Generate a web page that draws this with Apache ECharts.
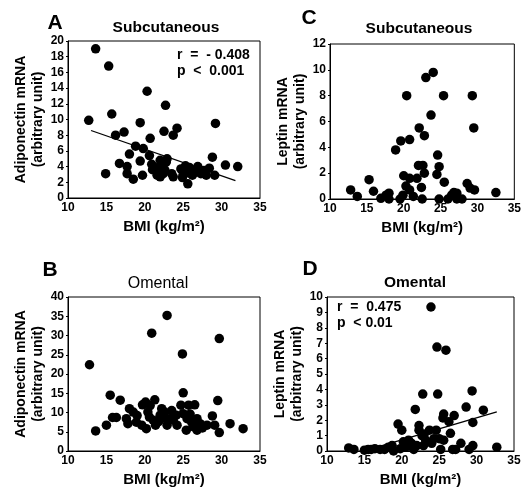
<!DOCTYPE html>
<html><head><meta charset="utf-8">
<script src="https://cdn.jsdelivr.net/npm/echarts@6/dist/echarts.min.js"></script>
<style>html,body{margin:0;padding:0;background:#fff}#c{width:524px;height:490px}</style>
</head><body><div id="c"></div>
<script>
// Panel A: Subcutaneous adiponectin vs BMI
var adipoSubc = [[13.6,19.0],[15.3,16.8],[20.3,13.6],[22.7,11.8],[15.7,10.7],[12.7,9.9],[19.4,9.6],[29.2,9.5],[24.2,8.9],[22.5,8.5],[17.3,8.4],[16.2,8.0],[23.7,8.0],[20.7,7.6],[18.8,6.6],[19.8,6.3],[18.0,5.6],[20.6,5.4],[28.8,5.2],[16.7,4.4],[19.4,4.7],[17.7,4.0],[14.9,3.1],[30.5,4.2],[32.1,4.0],[19.7,2.9],[17.7,3.1],[18.5,2.4],[23.5,3.1],[23.7,2.7],[25.6,1.8],[29.1,2.9],[27.3,3.1],[28.4,3.8],[20.9,4.3],[21.3,3.9],[21.7,3.4],[22.0,4.8],[22.3,4.2],[21.6,2.9],[22.6,3.6],[22.0,2.7],[22.8,4.6],[21.0,3.6],[22.4,3.1],[24.7,3.7],[25.3,4.1],[25.8,3.9],[26.4,3.5],[26.9,4.0],[25.0,3.0],[26.2,2.9],[27.7,3.5],[28.0,2.9],[24.9,2.6],[25.7,3.2],[26.6,3.3],[22.9,5.0]];
var fitA = [[13.0,8.6],[31.8,2.2]];
// Panel C: Subcutaneous leptin vs BMI
var leptinSubc = [[12.8,0.7],[13.7,0.2],[15.3,1.5],[15.9,0.6],[16.9,0.05],[17.6,0.3],[18.0,0.45],[18.0,0.0],[18.9,3.8],[19.6,4.5],[19.5,0.0],[19.9,0.3],[20.0,1.8],[20.4,8.0],[20.3,1.0],[20.8,4.6],[20.8,1.6],[20.8,0.7],[21.3,0.2],[21.8,1.6],[22.1,5.5],[22.0,2.6],[22.4,0.9],[22.5,0.0],[22.6,2.6],[22.8,4.9],[22.8,2.0],[23.0,9.4],[23.7,6.5],[24.0,9.8],[24.6,3.4],[24.5,1.9],[24.8,2.5],[24.8,0.0],[25.4,8.0],[25.5,1.3],[26.0,0.0],[26.5,0.3],[26.8,0.5],[27.2,0.45],[27.2,0.0],[27.9,0.0],[28.6,1.2],[29.0,0.85],[29.3,8.0],[29.5,5.5],[29.6,0.7],[32.5,0.5]];
// Panel B: Omental adiponectin vs BMI
var adipoOment = [[12.8,22.4],[13.6,5.2],[15.0,6.7],[15.5,14.5],[15.8,8.7],[16.3,8.7],[16.8,13.2],[17.6,8.4],[17.8,7.1],[18.0,11.0],[18.5,10.1],[18.9,7.5],[19.6,6.7],[19.7,12.0],[20.1,12.7],[20.2,5.8],[20.4,10.1],[20.7,11.8],[20.9,30.6],[21.1,8.0],[21.3,13.3],[21.4,6.7],[22.0,9.3],[22.2,11.0],[22.6,10.1],[22.9,6.7],[22.9,35.2],[23.2,8.4],[23.7,8.0],[24.1,9.3],[24.2,6.7],[24.7,11.9],[25.0,15.1],[24.9,25.2],[25.0,9.7],[25.4,5.4],[25.5,8.4],[25.7,11.9],[26.1,7.5],[26.5,12.0],[26.8,8.4],[26.8,5.4],[27.2,7.1],[27.5,6.0],[28.1,6.7],[28.8,9.1],[29.1,6.7],[29.5,13.1],[29.7,29.2],[29.7,4.8],[31.1,7.1],[32.8,5.8],[19.0,9.2],[21.8,7.6],[23.5,10.5],[25.9,9.6],[26.3,6.3],[22.4,8.6],[20.6,8.8]];
// Panel D: Omental leptin vs BMI
var leptinOment = [[12.9,0.2],[13.6,0.1],[15.0,0.05],[15.5,0.1],[15.9,0.1],[16.4,0.15],[17.1,0.1],[17.7,0.1],[18.2,0.25],[18.7,0.35],[18.9,0.0],[19.5,1.75],[20.0,1.35],[19.8,0.15],[20.2,0.6],[20.5,0.25],[20.9,0.7],[21.1,0.35],[21.6,0.1],[21.8,2.7],[22.0,0.35],[22.3,1.65],[22.3,1.35],[22.7,1.0],[22.8,3.7],[22.9,0.35],[23.2,0.7],[23.7,1.35],[23.9,9.35],[24.3,0.8],[24.6,1.35],[24.7,6.75],[24.8,3.7],[25.0,0.8],[25.2,0.1],[25.5,2.15],[25.6,2.4],[25.6,0.7],[25.9,6.55],[26.3,1.9],[26.5,1.15],[27.0,2.3],[26.8,0.1],[27.2,0.1],[27.9,0.5],[28.6,2.85],[29.0,0.1],[29.4,3.9],[29.5,1.85],[29.5,0.35],[30.9,2.65],[32.7,0.25],[21.3,0.5],[23.0,1.1],[24.0,0.5]];
var fitD = [[16.8,0.26],[32.7,2.54]];
var xTicks = {min:10, max:35, interval:5};
var yNames = ['Adiponectin mRNA\n(arbitrary unit)','Leptin mRNA\n(arbitrary unit)','Adiponectin mRNA\n(arbitrary unit)','Leptin mRNA\n(arbitrary unit)'];
var yRanges = [[0,20,2],[0,12,2],[0,40,5],[0,10,1]];
var xName = 'BMI (kg/m\u00B2)';

var FF = 'Liberation Sans, Arial, Helvetica, sans-serif';
var grids = [
  {left:68, top:41, width:192, height:157},
  {left:330, top:44, width:187, height:155},
  {left:68, top:297, width:192, height:154},
  {left:327, top:297, width:187, height:154}
].map(function(g){ return Object.assign({show:true, borderColor:'#000', borderWidth:1, backgroundColor:'transparent'}, g); });

var xAxes = [0,1,2,3].map(function(i){
  return {type:'value', gridIndex:i, min:xTicks.min, max:xTicks.max, interval:xTicks.interval,
    name:xName, nameLocation:'middle', nameGap:21,
    nameTextStyle:{fontFamily:FF, fontSize:15, fontWeight:'bold', color:'#000'},
    axisLine:{lineStyle:{color:'#000', width:1}}, axisTick:{show:false},
    splitLine:{show:false},
    axisLabel:{fontFamily:FF, fontSize:12, fontWeight:'bold', color:'#000', margin:4}};
});
var yGaps = [20, 20, 20, 19];
var yAxes = [0,1,2,3].map(function(i){
  var r = yRanges[i];
  return {type:'value', gridIndex:i, min:r[0], max:r[1], interval:r[2],
    name:yNames[i], nameLocation:'middle', nameGap:yGaps[i],
    nameTextStyle:{fontFamily:FF, fontSize:14, fontWeight:'bold', color:'#000', lineHeight:17},
    axisLine:{lineStyle:{color:'#000', width:1}}, axisTick:{show:true, length:2, lineStyle:{color:'#000'}},
    splitLine:{show:false},
    axisLabel:{fontFamily:FF, fontSize:12, fontWeight:'bold', color:'#000', margin:4}};
});

function sc(data, i){ return {type:'scatter', xAxisIndex:i, yAxisIndex:i, data:data, symbolSize:9.5, itemStyle:{color:'#000', opacity:1}, silent:true}; }
function ln(data, i){ return {type:'line', xAxisIndex:i, yAxisIndex:i, data:data, symbol:'none', lineStyle:{color:'#000', width:1.3}, silent:true}; }

function ctext(cx, cy, s, size, weight){
  return {type:'text', x:cx, y:cy, style:{text:s, fontFamily:FF, fontSize:size, fontWeight:weight, fill:'#000', textAlign:'center', textVerticalAlign:'middle'}};
}
function ltext(x, y, s){
  return {type:'text', x:x, y:y, style:{text:s, fontFamily:FF, fontSize:14, fontWeight:'bold', fill:'#000', textVerticalAlign:'middle'}};
}

var chart = echarts.init(document.getElementById('c'), null, {renderer:'canvas'});
chart.setOption({
  animation:false,
  grid:grids, xAxis:xAxes, yAxis:yAxes,
  series:[sc(adipoSubc,0), ln(fitA,0), sc(leptinSubc,1), sc(adipoOment,2), sc(leptinOment,3), ln(fitD,3)],
  graphic:[
    ctext(55,23,'A',21,'bold'), ctext(166,28,'Subcutaneous',15.5,'bold'),
    ctext(309,18,'C',21,'bold'), ctext(419,29,'Subcutaneous',15.5,'bold'),
    ctext(50,270,'B',21,'bold'), ctext(158,284,'Omental',16,'normal'),
    ctext(310,269,'D',21,'bold'), ctext(415,283,'Omental',15.5,'bold'),
    ltext(177,55,'r  =  - 0.408'),
    ltext(177,71,'p  <  0.001'),
    ltext(337,307,'r  =  0.475'),
    ltext(337,323,'p  < 0.01')
  ]
});
</script></body></html>
